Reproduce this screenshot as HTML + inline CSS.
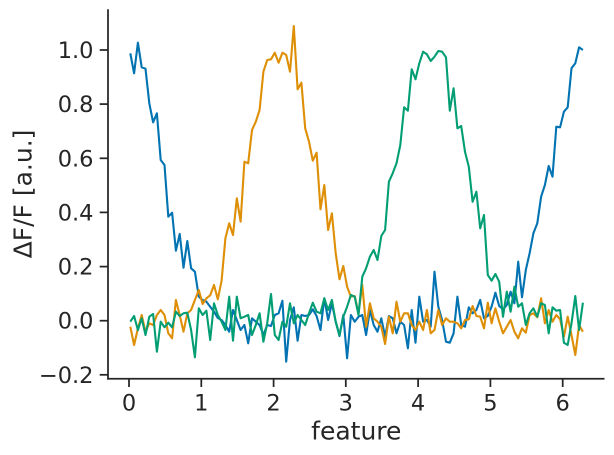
<!DOCTYPE html>
<html>
<head>
<meta charset="utf-8">
<style>
html,body{margin:0;padding:0;background:#ffffff;}
svg{display:block;}
text{font-family:"DejaVu Sans","Liberation Sans",sans-serif;fill:#262626;}
</style>
</head>
<body>
<svg width="614" height="455" viewBox="0 0 614 455" xmlns="http://www.w3.org/2000/svg">
<rect width="614" height="455" fill="#ffffff"/>

<!-- series -->
<g fill="none" stroke-width="2.1" stroke-linejoin="round" stroke-linecap="butt">
<polyline stroke="#0173B2" points="130.3,53.3 134.1,73.3 137.9,42.7 141.7,67.3 145.5,68.7 149.3,103.3 153.1,122.3 156.9,113.3 160.7,160 164.5,165 168.3,216.7 172.1,212.7 175.9,250.7 179.7,234 183.5,267.7 187.3,241 191.1,268.3 194.9,271.7 198.8,296.7 202.6,300 206.4,301.7 210.2,306.7 214.0,311.7 217.8,318 221.6,320 225.4,325 229.2,331.7 233.0,310 236.8,320 240.6,330 244.4,325 248.2,343.3 252.0,318.3 255.8,321.7 259.6,325 263.4,335 267.2,325 271.0,326 274.8,315 278.6,313.3 282.4,300.7 286.2,361.7 290.0,320 293.8,307.3 297.6,340.7 301.4,315 305.2,316 309.0,315 312.8,309.3 316.6,316 320.5,330 324.3,298.3 328.1,320 331.9,303.3 335.7,321.7 339.5,336 343.3,315 347.1,358.3 350.9,315 354.7,321.7 358.5,316.7 362.3,315 366.1,335 369.9,310 373.7,325 377.5,331.7 381.3,318.3 385.1,336.7 388.9,316 392.7,318.3 396.5,333.3 400.3,321.7 404.1,325 407.9,348.3 411.7,310 415.5,342.7 419.3,296.7 423.1,321.7 426.9,320 430.7,326.7 434.5,271.7 438.3,306.7 442.1,320 446.0,341.7 449.8,342.7 453.6,333.3 457.4,296.7 461.2,325 465.0,326.7 468.8,307.3 472.6,313.3 476.4,310 480.2,300 484.0,318.3 487.8,316 491.6,306.7 495.4,292.7 499.2,306 503.0,309.3 506.8,305 510.6,291.7 514.4,303.3 518.2,261.7 522.0,297.3 525.8,270 529.6,253.3 533.4,233.3 537.3,223.3 541.1,196.7 544.9,185 548.7,166 552.5,176.7 556.3,126.7 560.1,127.3 563.9,111.7 567.7,107.3 571.5,68.3 575.3,63.3 579.1,47.3 582.9,50"/>
<polyline stroke="#DE8F05" points="130.3,326.7 134.1,345 137.9,328.3 141.7,315 145.5,331.7 149.3,323.3 153.1,325 156.9,315 160.7,310 164.5,315 168.3,333.3 172.1,338.3 175.9,300 179.7,315 183.5,331.7 187.3,313.3 191.1,310 194.9,300 198.8,290 202.6,304 206.4,298.3 210.2,295.3 214.0,285 217.8,299.3 221.6,280.7 225.4,238.3 229.2,223.3 233.0,235 236.8,198.3 240.6,221.7 244.4,161.7 248.2,163.3 252.0,130 255.8,121.7 259.6,110 263.4,71.7 267.2,60 271.0,59.3 274.8,52.7 278.6,62.7 282.4,52.7 286.2,55 290.0,71.7 293.8,26 297.6,89.3 301.4,82.7 305.2,128.3 309.0,141.7 312.8,160.7 316.6,152.7 320.5,209.3 324.3,185 328.1,230 331.9,213.3 335.7,253.3 339.5,279.3 343.3,266 347.1,286.7 350.9,296.7 354.7,296 358.5,313.3 362.3,285 366.1,326.7 369.9,303.3 373.7,318.3 377.5,321.7 381.3,326.7 385.1,344 388.9,316.7 392.7,333.3 396.5,301.7 400.3,321.7 404.1,313.3 407.9,313.3 411.7,325 415.5,330 419.3,321.7 423.1,330 426.9,310 430.7,333.3 434.5,330 438.3,310 442.1,325 446.0,318.3 449.8,321.7 453.6,321.7 457.4,323.3 461.2,328.3 465.0,320 468.8,319.3 472.6,306 476.4,316 480.2,316.7 484.0,328.3 487.8,302.7 491.6,323.3 495.4,308.3 499.2,321.7 503.0,333.3 506.8,326.7 510.6,320 514.4,331.7 518.2,338.3 522.0,328.3 525.8,332.7 529.6,315 533.4,313.3 537.3,317.3 541.1,298.3 544.9,323.3 548.7,310 552.5,321.7 556.3,315 560.1,319.3 563.9,336.7 567.7,316.7 571.5,335 575.3,355 579.1,325 582.9,331.7"/>
<polyline stroke="#029E73" points="130.3,321.7 134.1,316 137.9,330 141.7,318.3 145.5,335 149.3,316.7 153.1,314 156.9,351.7 160.7,321.7 164.5,327.3 168.3,322.7 172.1,327.3 175.9,311.7 179.7,316 183.5,313.3 187.3,312.7 191.1,330 194.9,357.3 198.8,308.3 202.6,315 206.4,310.7 210.2,340 214.0,303.3 217.8,315 221.6,321.7 225.4,330 229.2,296.7 233.0,340.7 236.8,296.7 240.6,318.3 244.4,316.7 248.2,315 252.0,335 255.8,325 259.6,313.3 263.4,341.7 267.2,323.3 271.0,294 274.8,335 278.6,340 282.4,321.7 286.2,326.7 290.0,303.3 293.8,323.3 297.6,315 301.4,320 305.2,325 309.0,313.3 312.8,302.7 316.6,311.7 320.5,313.3 324.3,298.3 328.1,310 331.9,300 335.7,321.7 339.5,335 343.3,316.7 347.1,306.7 350.9,295 354.7,296.7 358.5,315 362.3,276.7 366.1,268.3 369.9,256.7 373.7,250 377.5,260 381.3,236 385.1,230 388.9,181.7 392.7,173.3 396.5,163.3 400.3,145 404.1,107.3 407.9,110.7 411.7,69.3 415.5,79.3 419.3,63.3 423.1,51.7 426.9,54.3 430.7,61 434.5,56.7 438.3,51 442.1,51.7 446.0,57.3 449.8,110.7 453.6,88.3 457.4,128.3 461.2,126 465.0,151.7 468.8,166.7 472.6,201.7 476.4,191.7 480.2,228.3 484.0,215 487.8,275 491.6,280.7 495.4,274 499.2,281.7 503.0,316.7 506.8,291.7 510.6,311.7 514.4,286.7 518.2,306.7 522.0,303.3 525.8,325 529.6,313.3 533.4,308.3 537.3,316.7 541.1,303.3 544.9,305 548.7,333.3 552.5,307.3 556.3,310.7 560.1,310 563.9,342.7 567.7,345 571.5,323.3 575.3,296 579.1,330 582.9,302.7"/>
</g>

<!-- spines -->
<g stroke="#262626" stroke-width="1.75" fill="none">
<line x1="108" y1="9.3" x2="108" y2="379.6"/>
<line x1="107.1" y1="378.7" x2="604.5" y2="378.7"/>
</g>

<!-- y ticks -->
<g stroke="#262626" stroke-width="1.75">
<line x1="99.7" y1="50" x2="108" y2="50"/>
<line x1="99.7" y1="104.1" x2="108" y2="104.1"/>
<line x1="99.7" y1="158.3" x2="108" y2="158.3"/>
<line x1="99.7" y1="212.4" x2="108" y2="212.4"/>
<line x1="99.7" y1="266.6" x2="108" y2="266.6"/>
<line x1="99.7" y1="320.7" x2="108" y2="320.7"/>
<line x1="99.7" y1="374.8" x2="108" y2="374.8"/>
</g>
<g font-size="22.5" text-anchor="end">
<text x="93.5" y="58">1.0</text>
<text x="93.5" y="112.1">0.8</text>
<text x="93.5" y="166.3">0.6</text>
<text x="93.5" y="220.4">0.4</text>
<text x="93.5" y="274.6">0.2</text>
<text x="93.5" y="328.7">0.0</text>
<text x="93.5" y="382.8">−0.2</text>
</g>

<!-- x ticks -->
<g stroke="#262626" stroke-width="1.75">
<line x1="129" y1="378.7" x2="129" y2="387"/>
<line x1="201.3" y1="378.7" x2="201.3" y2="387"/>
<line x1="273.6" y1="378.7" x2="273.6" y2="387"/>
<line x1="345.8" y1="378.7" x2="345.8" y2="387"/>
<line x1="418.1" y1="378.7" x2="418.1" y2="387"/>
<line x1="490.4" y1="378.7" x2="490.4" y2="387"/>
<line x1="562.7" y1="378.7" x2="562.7" y2="387"/>
</g>
<g font-size="22.5" text-anchor="middle">
<text x="129" y="410.7">0</text>
<text x="201.3" y="410.7">1</text>
<text x="273.6" y="410.7">2</text>
<text x="345.8" y="410.7">3</text>
<text x="418.1" y="410.7">4</text>
<text x="490.4" y="410.7">5</text>
<text x="562.7" y="410.7">6</text>
</g>

<!-- axis labels -->
<text x="356.3" y="439.3" font-size="25" text-anchor="middle">feature</text>
<text transform="translate(31.5,194) rotate(-90)" font-size="25" text-anchor="middle">ΔF/F [a.u.]</text>
</svg>
</body>
</html>
